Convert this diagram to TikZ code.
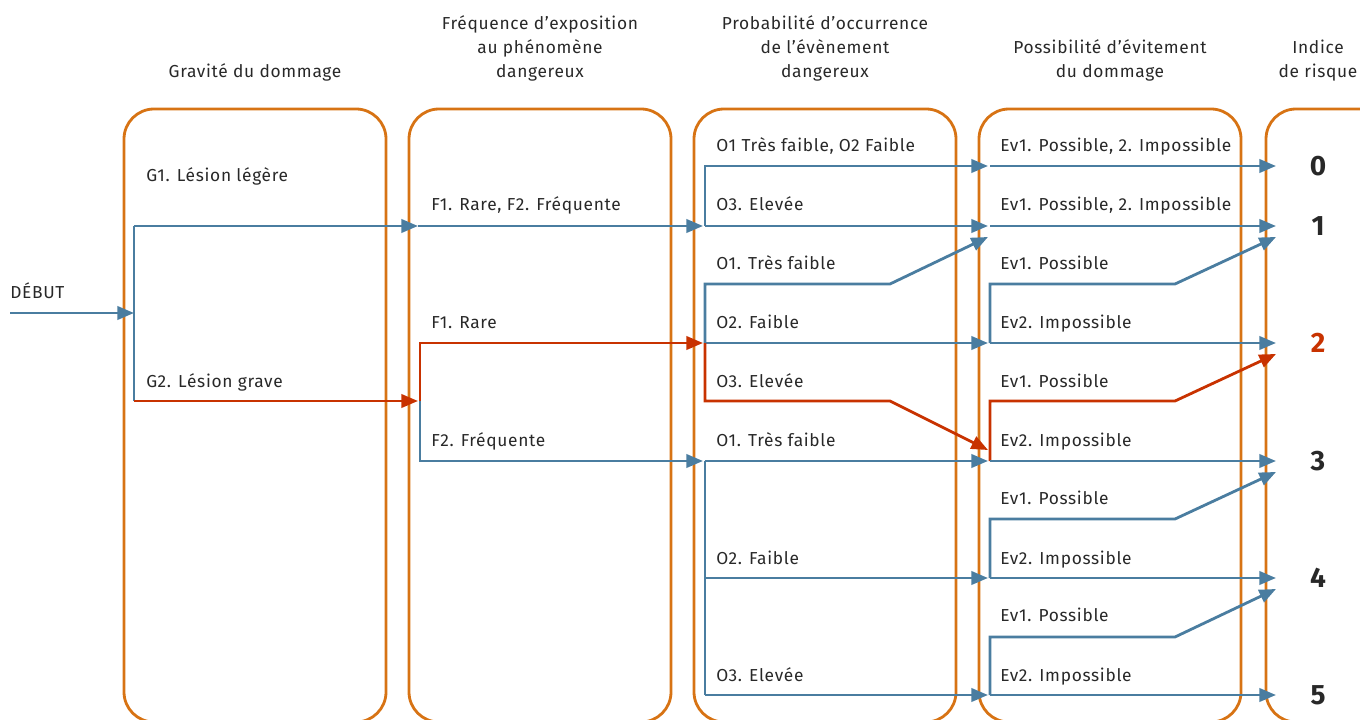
\documentclass[tikz,border=0pt]{standalone}
\usepackage{fontspec}
\setmainfont{Fira Sans}[LetterSpace=4]
\usetikzlibrary{arrows.meta}
\definecolor{orng}{RGB}{215,115,20}
\definecolor{blu}{RGB}{74,125,160}
\definecolor{rd}{RGB}{200,50,0}
\definecolor{txt}{RGB}{40,40,40}
\begin{document}
\begin{tikzpicture}[x=0.75pt,y=-0.75pt,
  colbox/.style={draw=orng,line width=2.1pt,rounded corners=22.5pt,minimum width=196.5pt,minimum height=459.75pt,inner sep=0pt,outer sep=0pt},
  lbl/.style={anchor=base west,inner sep=0pt,text=txt,font=\fontsize{13}{15}\selectfont},
  hdr/.style={anchor=base,inner sep=0pt,text=txt,font=\fontsize{13}{15}\selectfont},
  num/.style={inner sep=0pt,text=txt,font=\bfseries\fontsize{21}{24}\selectfont},
  bl/.style={draw=blu,line width=2.1pt},
  rl/.style={draw=rd,line width=2.1pt},
  arr/.style={-{Triangle[length=12.5pt,width=10pt]}},
]
\clip (0,0) rectangle (1360,720);
% columns
\node[colbox] (c1) at (255,415.5) {};
\node[colbox] (c2) at (540,415.5) {};
\node[colbox] (c3) at (825,415.5) {};
\node[colbox] (c4) at (1110,415.5) {};
\node[colbox] (c5) at (1397,415.5) {};
% headers
\node[hdr] (h1) at (255,78) {Gravité du dommage};
\node[hdr] (h2a) at (540,30) {Fréquence d’exposition};
\node[hdr] (h2b) at (540,54) {au phénomène};
\node[hdr] (h2c) at (540,78) {dangereux};
\node[hdr] (h3a) at (825,30) {Probabilité d’occurrence};
\node[hdr] (h3b) at (825,54) {de l’évènement};
\node[hdr] (h3c) at (825,78) {dangereux};
\node[hdr] (h4a) at (1110,54) {Possibilité d’évitement};
\node[hdr] (h4b) at (1110,78) {du dommage};
\node[hdr] (h5a) at (1318,54) {Indice};
\node[hdr] (h5b) at (1318,78) {de risque};
% labels
\node[lbl] (deb) at (10,299) {DÉBUT};
\node[lbl] (g1) at (146,182) {G1. Lésion légère};
\node[lbl] (g2) at (146,387) {G2. Lésion grave};
\node[lbl] (f12) at (431,211) {F1. Rare, F2. Fréquente};
\node[lbl] (f1) at (431,329) {F1. Rare};
\node[lbl] (f2) at (431,446) {F2. Fréquente};
\node[lbl] (o12a) at (716,152) {O1 Très faible, O2 Faible};
\node[lbl] (o3a) at (716,211) {O3. Elevée};
\node[lbl] (o1b) at (716,270) {O1. Très faible};
\node[lbl] (o2b) at (716,329) {O2. Faible};
\node[lbl] (o3b) at (716,387) {O3. Elevée};
\node[lbl] (o1c) at (716,446) {O1. Très faible};
\node[lbl] (o2c) at (716,564) {O2. Faible};
\node[lbl] (o3c) at (716,681) {O3. Elevée};
\node[lbl] (e1) at (1000,152) {Ev1. Possible, 2. Impossible};
\node[lbl] (e2) at (1000,211) {Ev1. Possible, 2. Impossible};
\node[lbl] (e3) at (1000,270) {Ev1. Possible};
\node[lbl] (e4) at (1000,329) {Ev2. Impossible};
\node[lbl] (e5) at (1000,387) {Ev1. Possible};
\node[lbl] (e6) at (1000,446) {Ev2. Impossible};
\node[lbl] (e7) at (1000,504) {Ev1. Possible};
\node[lbl] (e8) at (1000,564) {Ev2. Impossible};
\node[lbl] (e9) at (1000,621) {Ev1. Possible};
\node[lbl] (e10) at (1000,681) {Ev2. Impossible};
% risk indices
\node[num] (r0) at (1318,166) {0};
\node[num] (r1) at (1318,226) {1};
\node[num,text=rd] (r2) at (1318,343) {2};
\node[num] (r3) at (1318,461) {3};
\node[num] (r4) at (1318,578) {4};
\node[num] (r5) at (1318,695) {5};
% junction coordinates
\coordinate (s) at (10,313);
\coordinate (j1) at (134,313);
\coordinate (j1t) at (134,226);
\coordinate (j1b) at (134,401);
\coordinate (a2t) at (418,226);
\coordinate (a2b) at (418,401);
\coordinate (k2) at (420,401);
\coordinate (k2t) at (420,343);
\coordinate (k2b) at (420,461);
\coordinate (a3a) at (703,226);
\coordinate (a3b) at (703,343);
\coordinate (a3c) at (703,461);
\coordinate (k3a) at (705,226);
\coordinate (k3b) at (705,343);
\coordinate (k3c) at (705,461);
\coordinate (k3d) at (705,578);
\coordinate (k3e) at (705,695);
\coordinate (b3a) at (890,284);
\coordinate (b3b) at (890,401);
\coordinate (a4r0) at (988,166);
\coordinate (a4r1) at (988,226);
\coordinate (a4d1) at (988,237);
\coordinate (a4r2) at (988,343);
\coordinate (a4d3) at (988,450);
\coordinate (a4r3) at (988,461);
\coordinate (a4r4) at (988,578);
\coordinate (a4r5) at (988,695);
\coordinate (k4a) at (990,166);
\coordinate (k4b) at (990,226);
\coordinate (k4c) at (990,343);
\coordinate (k4d) at (990,461);
\coordinate (k4e) at (990,578);
\coordinate (k4f) at (990,695);
\coordinate (b4c) at (1175,284);
\coordinate (b4d) at (1175,401);
\coordinate (b4e) at (1175,519);
\coordinate (b4f) at (1175,637);
\coordinate (t0) at (1276,166);
\coordinate (t1) at (1276,226);
\coordinate (t1d) at (1276,237);
\coordinate (t2) at (1276,343);
\coordinate (t2d) at (1276,354);
\coordinate (t3) at (1276,461);
\coordinate (t3d) at (1276,472);
\coordinate (t4) at (1276,578);
\coordinate (t4d) at (1276,589);
\coordinate (t5) at (1276,695);
% column 1
\draw[bl,arr] (s) -- (j1);
\draw[bl] (j1b) -- (j1t);
\draw[bl,arr] (j1t) -- (a2t);
\draw[rl,arr] (j1b) -- (a2b);
% column 2
\draw[bl,arr] (a2t) -- (a3a);
\draw[rl,arr] (k2) -- (k2t) -- (a3b);
\draw[bl,arr] (k2) -- (k2b) -- (a3c);
% column 3
\draw[bl,arr] (k3a) |- (a4r0);
\draw[bl,arr] (k3a) -- (a4r1);
\draw[bl,arr] (k3b) |- (b3a) -- (a4d1);
\draw[bl,arr] (k3b) -- (a4r2);
\draw[rl,arr] (k3b) |- (b3b) -- (a4d3);
\draw[bl,arr] (k3c) -- (a4r3);
\draw[bl] (k3c) -- (k3e);
\draw[bl,arr] (k3d) -- (a4r4);
\draw[bl,arr] (k3e) -- (a4r5);
% column 4
\draw[bl,arr] (k4a) -- (t0);
\draw[bl,arr] (k4b) -- (t1);
\draw[bl,arr] (k4c) |- (b4c) -- (t1d);
\draw[bl,arr] (k4c) -- (t2);
\draw[rl,arr] (k4d) |- (b4d) -- (t2d);
\draw[bl,arr] (k4d) -- (t3);
\draw[bl,arr] (k4e) |- (b4e) -- (t3d);
\draw[bl,arr] (k4e) -- (t4);
\draw[bl,arr] (k4f) |- (b4f) -- (t4d);
\draw[bl,arr] (k4f) -- (t5);
\end{tikzpicture}
\end{document}
